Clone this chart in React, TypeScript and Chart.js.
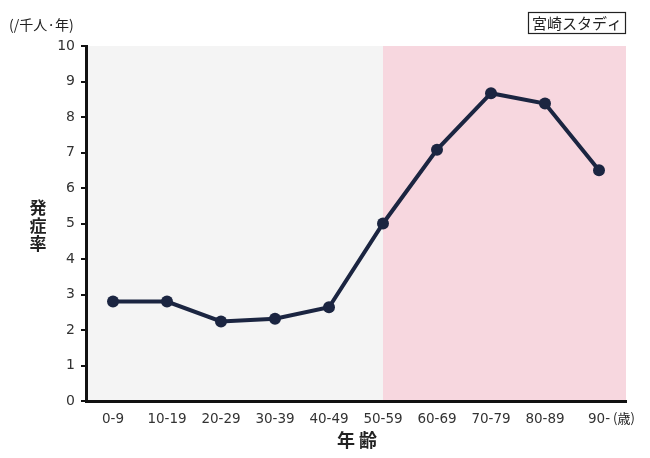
import React, { useEffect, useRef } from "react";
import { Chart, registerables } from "chart.js";
Chart.register(...registerables);

const ageGroups = ["0-9", "10-19", "20-29", "30-39", "40-49", "50-59", "60-69", "70-79", "80-89", "90-"];
const incidence = [2.8, 2.8, 2.24, 2.32, 2.64, 5.0, 7.08, 8.67, 8.38, 6.5];
const yTicks = [0, 1, 2, 3, 4, 5, 6, 7, 8, 9, 10];
const shadeStartIndex = 5;

const FONT = '"Noto Sans CJK JP", "Noto Sans", sans-serif';
const NUMFONT = '"DejaVu Sans", sans-serif';

const decorPlugin = {
  id: "decor",
  beforeDraw(chart: any) {
    const { ctx, chartArea } = chart;
    const xs = chart.scales.x;
    const split = xs.getPixelForValue(shadeStartIndex);
    ctx.save();
    ctx.fillStyle = "#f4f4f4";
    ctx.fillRect(chartArea.left, chartArea.top, split - chartArea.left, chartArea.bottom - chartArea.top);
    ctx.fillStyle = "#f7d7df";
    ctx.fillRect(split, chartArea.top, chartArea.right - split, chartArea.bottom - chartArea.top);
    ctx.restore();
  },
  afterDraw(chart: any) {
    const { ctx } = chart;
    ctx.save();
    ctx.fillStyle = "#222";
    ctx.textBaseline = "middle";
    ctx.font = `14px ${FONT}`;
    ctx.textAlign = "left";
    ctx.fillText("(/千人·年)", 9, 25);
    // (歳)
    ctx.font = `13px ${FONT}`;
    ctx.fillText("(歳)", 613, 418);
    // y title stacked
    ctx.font = `bold 17px ${FONT}`;
    ctx.textAlign = "center";
    const chars = ["発", "症", "率"];
    chars.forEach((c, i) => ctx.fillText(c, 38, 208 + i * 18));
    // x title
    ctx.font = `bold 18px ${FONT}`;
    ctx.fillText("年 齢", 357, 440);
    // box label
    ctx.font = `15px ${FONT}`;
    ctx.fillText("宮崎スタディ", 577, 23);
    ctx.strokeStyle = "#222";
    ctx.lineWidth = 1.2;
    ctx.strokeRect(528.5, 12.5, 97, 21);
    ctx.restore();
  },
};

export default function App() {
  const ref = useRef<HTMLCanvasElement>(null);
  useEffect(() => {
    const chart = new Chart(ref.current!, {
      type: "line",
      data: {
        labels: ageGroups,
        datasets: [
          {
            data: incidence,
            borderColor: "#1b2541",
            backgroundColor: "#1b2541",
            borderWidth: 4,
            pointRadius: 6,
            pointBackgroundColor: "#1b2541",
            pointBorderWidth: 0,
            tension: 0,
          },
        ],
      },
      plugins: [decorPlugin],
      options: {
        animation: false,
        responsive: false,
        maintainAspectRatio: false,
        layout: { padding: { top: 46, right: 24, left: 0, bottom: 0 } },
        plugins: { legend: { display: false }, tooltip: { enabled: false } },
        scales: {
          x: {
            type: "category",
            offset: true,
            afterFit(s: any) {
              s.height = 57;
            },
            grid: { display: false },
            border: { display: true, color: "#111", width: 3 },
            ticks: {
              autoSkip: false,
              maxRotation: 0,
              padding: 2,
              color: "#333",
              font: { family: NUMFONT, size: 13.5 },
            },
          },
          y: {
            min: 0,
            max: 10,
            afterFit(s: any) {
              s.width = 86;
            },
            afterBuildTicks(s: any) {
              s.ticks = yTicks.map((v) => ({ value: v }));
            },
            grid: { drawOnChartArea: false, drawTicks: true, tickLength: 5, color: "#111", lineWidth: 2 },
            border: { display: true, color: "#111", width: 3 },
            ticks: {
              padding: 6,
              color: "#333",
              font: { family: NUMFONT, size: 14 },
            },
          },
        },
      },
    });
    return () => chart.destroy();
  }, []);
  return (
    <div style={{ position: "fixed", left: 0, top: 0, width: 650, height: 458, background: "#fff" }}>
      <canvas ref={ref} width={650} height={458} style={{ width: 650, height: 458 }} />
    </div>
  );
}
